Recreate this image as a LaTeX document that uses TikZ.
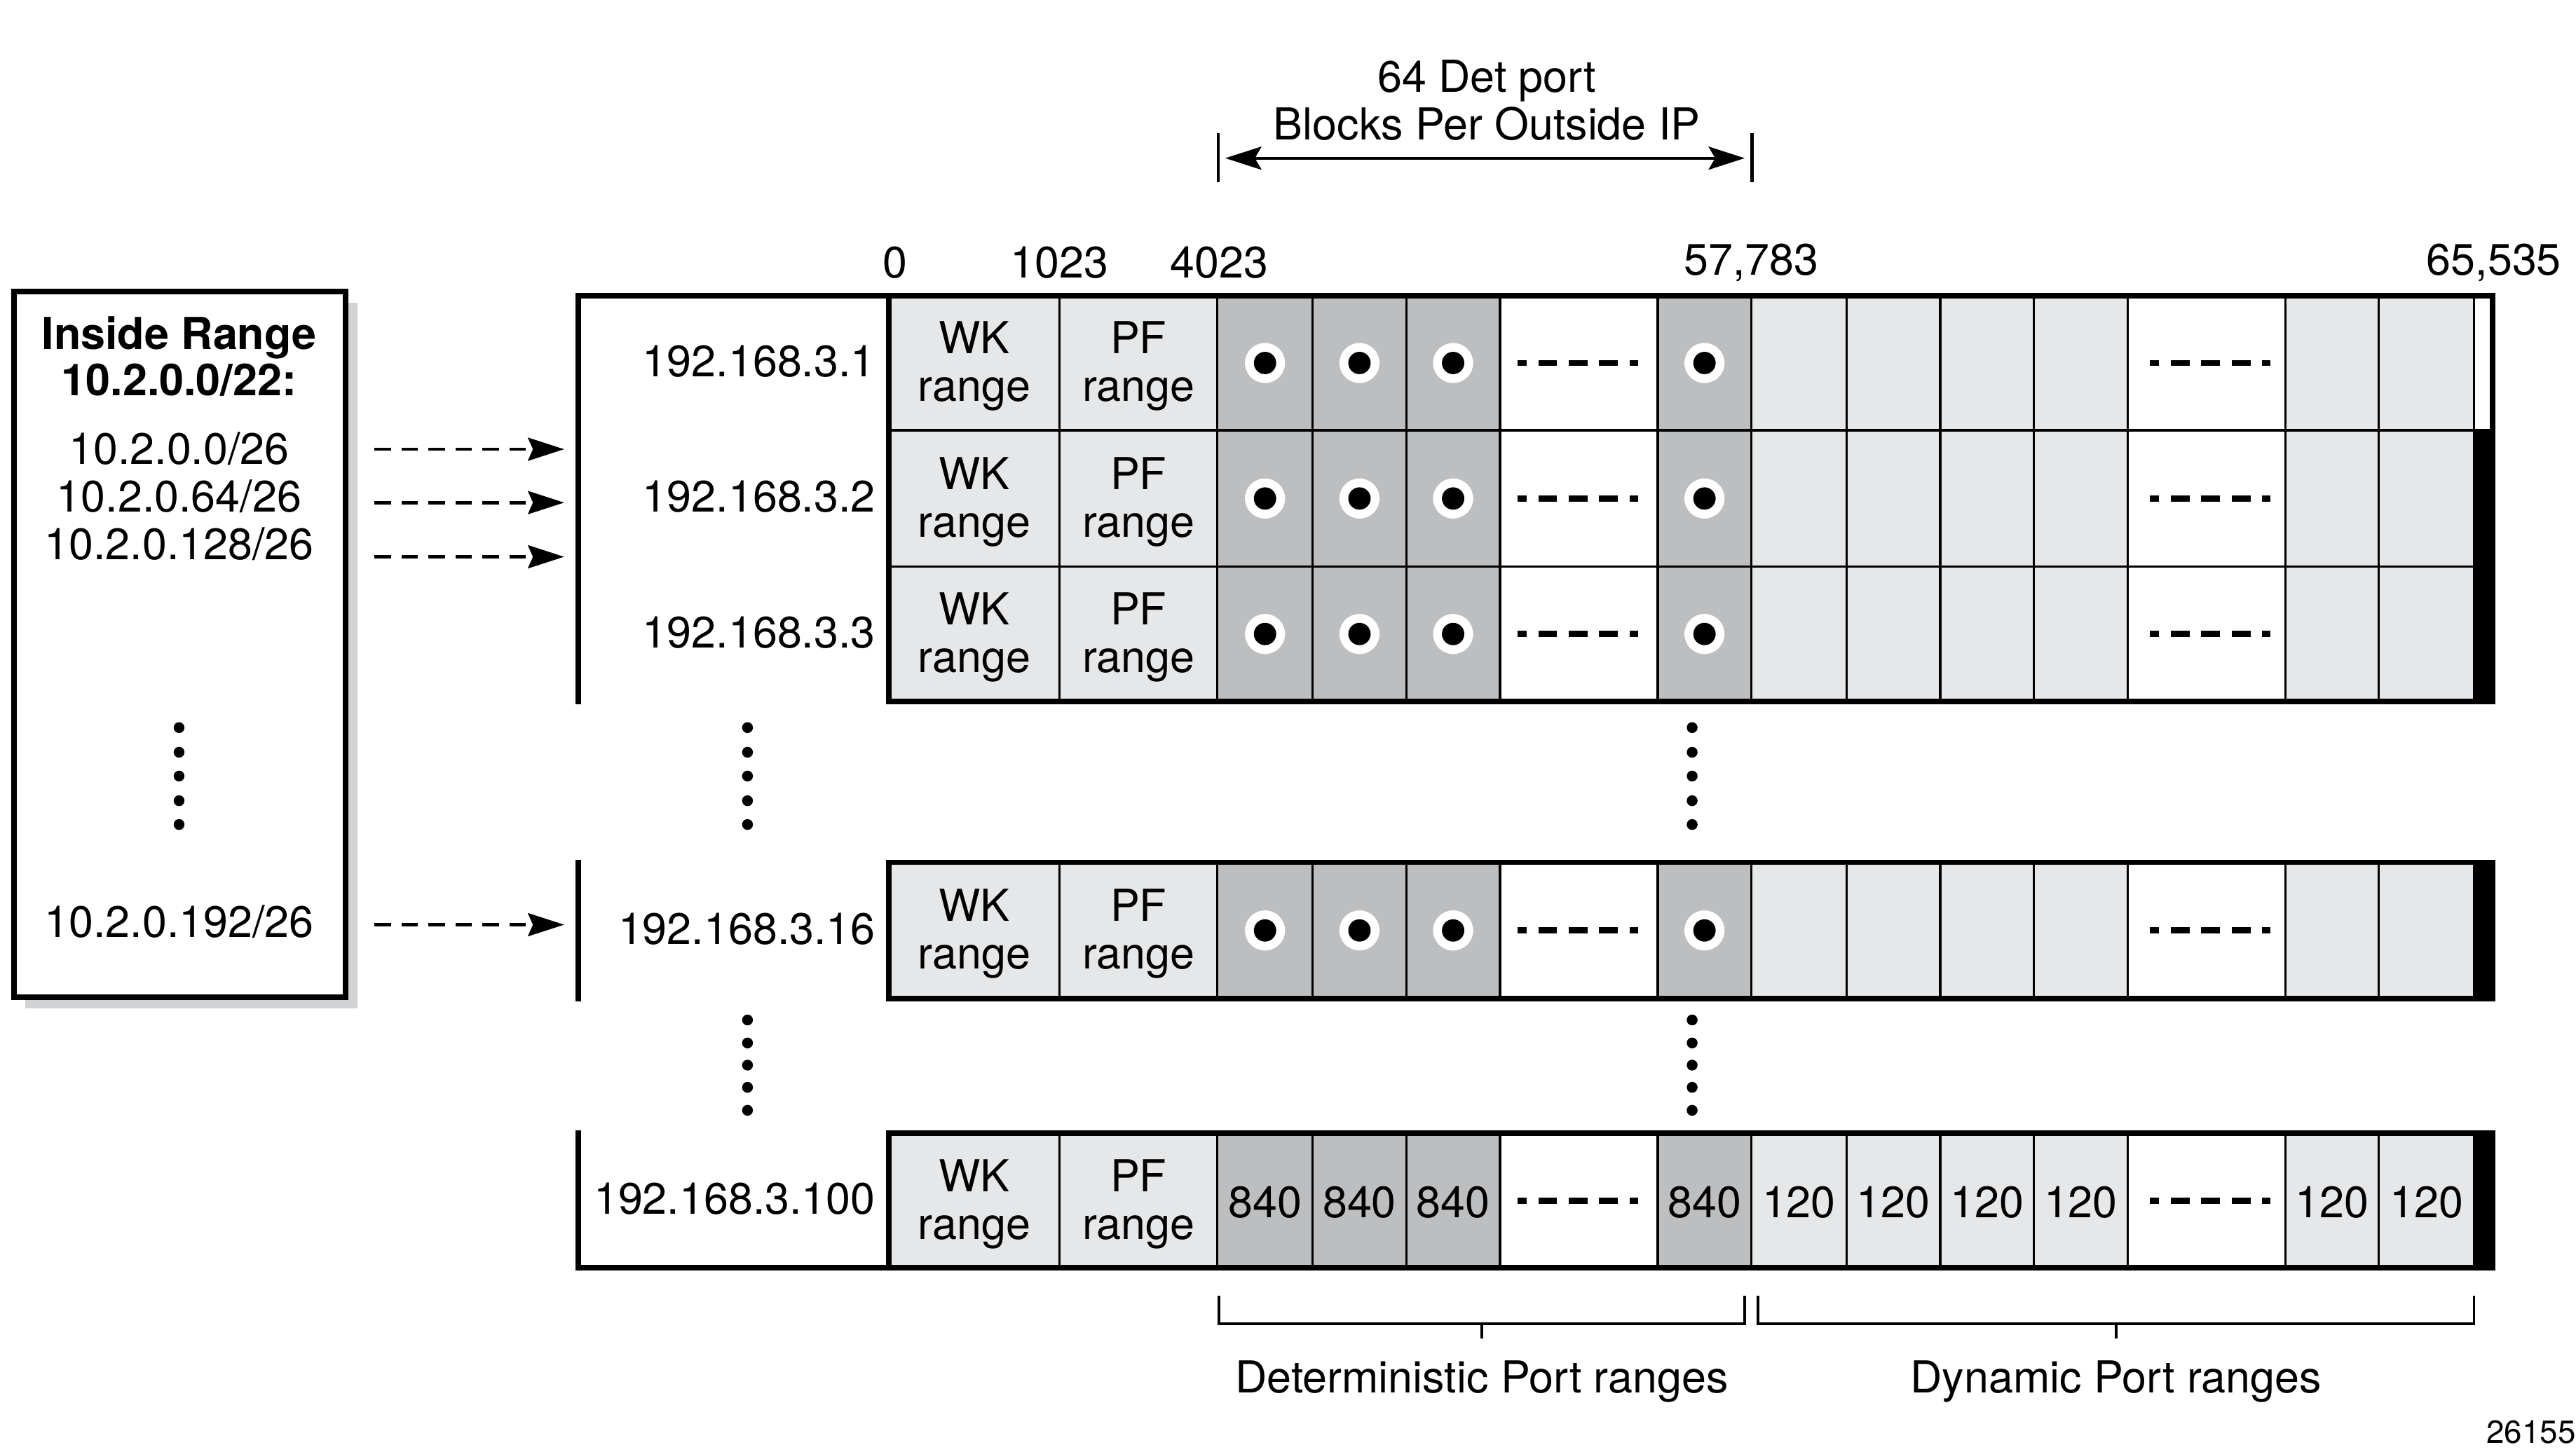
\documentclass[tikz,border=0pt]{standalone}
\usepackage{fontspec}
\setmainfont{TeX Gyre Heros}
\usepackage{tikz}
\usetikzlibrary{arrows.meta}
\usetikzlibrary{positioning}
\usetikzlibrary{calc}
\definecolor{cellgray}{HTML}{E6E7E8}
\definecolor{detgray}{HTML}{BCBEC0}
\definecolor{shadowgray}{HTML}{D1D3D4}
\tikzset{
  txt/.style = {inner sep=0pt, align=center,
    font=\fontsize{26.8}{29}\selectfont},
  txt_b/.style = {txt, font=\fontsize{26.8}{28}\selectfont\bfseries},
  cell_l/.style = {draw=black, line width=1.4pt},
  frame_l/.style = {line width=3.4pt, line cap=rect},
  blk_dash/.style = {line width=3.8pt, dash pattern=on 11.4pt off 7.1pt,
    dash phase=5.7pt},
  map_arr/.style = {line width=2pt, dash pattern=on 10pt off 6.4pt,
    -{Stealth[length=22pt,width=14pt,inset=3pt]}},
  span_arr/.style = {line width=1.85pt,
    {Stealth[length=22pt,width=14pt,inset=4pt]}-{Stealth[length=22pt,width=14pt,inset=4pt]}},
  brace_l/.style = {line width=1.5pt}
}

\begin{document}
\begin{tikzpicture}[x=1pt,y=-1pt]
\useasboundingbox (0,0) rectangle (1568,884);

% inside range box
\fill[shadowgray] (15.5,184.5) rectangle (217.5,614);
\draw[line width=3.3pt, fill=white] (8.5,177.5) rectangle (210.5,607);
\node[txt_b] (inside) at (109,217) {Inside Range\\10.2.0.0/22:};
\node[txt] (subnets) at (109,302) {10.2.0.0/26\\10.2.0.64/26\\10.2.0.128/26};
\node[txt] (lastnet) at (109,561) {10.2.0.192/26};

% port cells
\foreach \ya/\yb in {180/262,262/345,345/427,525/608,690/772} {
  \foreach \xa/\xb/\c in {541/645/cellgray,645/741/cellgray,741/799/detgray,
      799/856/detgray,856/913/detgray,913/1009/white,1009/1066/detgray,
      1066/1124/cellgray,1124/1181/cellgray,1181/1238/cellgray,
      1238/1295/cellgray,1295/1391/white,1391/1448/cellgray,1448/1506/cellgray}
    \draw[cell_l, fill=\c] (\xa,\ya) rectangle (\xb,\yb);
}
\draw[cell_l, fill=white] (1506,180) rectangle (1517,262);
\foreach \ya/\yb in {262/427,525/608,690/772}
  \fill (1506,\ya) rectangle (1517,\yb);

\draw[frame_l] (541,180) rectangle (1517,427);
\draw[frame_l] (541,525) rectangle (1517,608);
\draw[frame_l] (541,690) rectangle (1517,772);
\draw[frame_l] (352,427) -- (352,180) -- (541,180);
\draw[frame_l] (352,525) -- (352,608);
\draw[frame_l] (352,690) -- (352,772) -- (1517,772);

% port blocks
\foreach \y in {221,303.5,386,566.5}
  \foreach \x in {770,827.5,884.5,1037.5} {
    \fill[white] (\x,\y) circle (12.2pt);
    \fill (\x,\y) circle (6.8pt);
  }
\foreach \y in {221,303.5,386,566.5,731} {
  \draw[blk_dash] (923.6,\y) -- (997,\y);
  \draw[blk_dash] (1308.6,\y) -- (1382,\y);
}

\foreach \y/\ip [count=\i] in {221/192.168.3.1,303.5/192.168.3.2,
    386/192.168.3.3,566.5/192.168.3.16,731/192.168.3.100} {
  \node[txt, anchor=east] (ip\i) at (533,\y-1) {\ip};
  \node[txt] (wk\i) at (593,\y+2) {WK\\range};
  \node[txt] (pf\i) at (693,\y+2) {PF\\range};
}
\foreach \x [count=\i] in {770,827.5,884.5,1037.5}
  \node[txt] (det\i) at (\x,732) {840};
\foreach \x [count=\i] in {1095,1152.5,1209.5,1266.5,1419.5,1477}
  \node[txt] (dyn\i) at (\x,732) {120};

% vertical dots
\foreach \y in {443,458,472.5,487.5,502} {
  \fill (109,\y) circle (3.3pt);
  \fill (455,\y) circle (3.3pt);
  \fill (1030,\y) circle (3.3pt);
}
\foreach \y in {621,635,648.5,662,676} {
  \fill (455,\y) circle (3.3pt);
  \fill (1030,\y) circle (3.3pt);
}

% mapping arrows
\foreach \y [count=\i] in {273.5,306,339,563} {
  \coordinate (src\i) at (228,\y);
  \coordinate (dst\i) at (343.4,\y);
  \draw[map_arr] (src\i) -- (dst\i);
}

% scale
\node[txt] (p0) at (545,160) {0};
\node[txt] (p1023) at (645,160) {1023};
\node[txt] (p4023) at (742,160) {4023};
\node[txt] (p57783) at (1066,160) {57,783};
\node[txt] (p65535) at (1518,160) {65,535};

% det blocks span
\coordinate (detL) at (745.8,96.3);
\coordinate (detR) at (1062,96.3);
\draw[line width=2pt] (741.5,81) -- (741.5,111);
\draw[line width=2pt] (1066.4,81) -- (1066.4,111);
\draw[span_arr] (detL) -- (detR);
\node[txt] (blocks) at (905,61) {64 Det port\\Blocks Per Outside IP};

% ranges
\draw[brace_l] (742,789) -- (742,806) -- (1062,806) -- (1062,789);
\draw[brace_l] (902,806) -- (902,815);
\draw[brace_l] (1070,789) -- (1070,806) -- (1506,806) -- (1506,789);
\draw[brace_l] (1288,806) -- (1288,815);
\node[txt, anchor=base] (detlbl) at (902,848) {Deterministic Port ranges};
\node[txt, anchor=base] (dynlbl) at (1288,848) {Dynamic Port ranges};

\node[inner sep=0pt, anchor=east, font=\fontsize{19.5}{22}\selectfont] (fignum) at (1568,872) {26155};
\end{tikzpicture}
\end{document}
